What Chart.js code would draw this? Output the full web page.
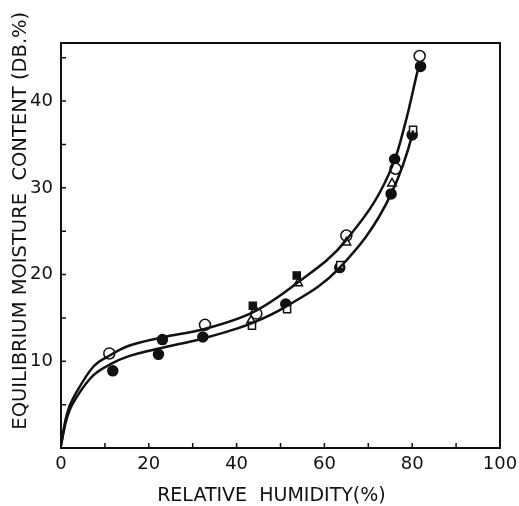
<!DOCTYPE html>
<html>
<head>
<meta charset="utf-8">
<script src="https://cdn.jsdelivr.net/npm/chart.js@4"></script>
<style>
  body { margin: 0; background: #fff; }
  #wrap { width: 519px; height: 506px; }
</style>
</head>
<body>
<div id="wrap"><canvas id="iso"></canvas></div>
<script>
// fitted curves
const upperX = [0, 1, 2, 3.6, 7.4, 11.2, 15, 23.1, 32.5, 43.9, 53.7, 65, 76, 78.8, 81.1, 81.6];
const upperY = [0.3, 3.2, 4.9, 6.5, 9.4, 10.7, 11.7, 12.75, 13.7, 15.7, 19.0, 24.0, 33.2, 38.2, 43.2, 44.2];
const lowerX = [0, 1, 2, 3.6, 7.4, 11.6, 15, 22.6, 32.1, 43.5, 51.2, 63.5, 75.2, 80.0, 80.2];
const lowerY = [0.3, 2.8, 4.4, 5.9, 8.4, 9.75, 10.5, 11.5, 12.6, 14.4, 16.3, 20.8, 29.3, 36.1, 36.6];

// measured points
const openCircleX = [11.0, 32.8, 44.5, 65.0, 76.2, 81.7];
const openCircleY = [10.9, 14.2, 15.5, 24.5, 32.2, 45.2];
const filledCircleX = [11.8, 23.1, 22.2, 32.3, 51.2, 63.5, 76.0, 75.2, 80.0, 81.9];
const filledCircleY = [8.9, 12.5, 10.8, 12.8, 16.6, 20.8, 33.3, 29.3, 36.1, 44.0];
const openSquareX = [43.5, 51.5, 63.6, 80.2];
const openSquareY = [14.1, 16.0, 21.1, 36.7];
const filledSquareX = [43.7, 53.7];
const filledSquareY = [16.4, 19.9];
const triangleX = [43.3, 54.0, 65.0, 75.4];
const triangleY = [14.7, 19.0, 23.7, 30.5];

const xTicks = [0, 10, 20, 30, 40, 50, 60, 70, 80, 90, 100];
const yTicks = [0, 5, 10, 15, 20, 25, 30, 35, 40, 45];

function pts(xs, ys) {
  return xs.map((x, i) => ({ x: x, y: ys[i] }));
}

function curve(xs, ys) {
  return {
    data: pts(xs, ys),
    showLine: true,
    borderColor: "#111",
    borderWidth: 2.5,
    pointRadius: 0,
    cubicInterpolationMode: "monotone",
    fill: false,
  };
}

function marks(xs, ys, style, filled, r) {
  return {
    data: pts(xs, ys),
    showLine: false,
    pointStyle: style,
    pointRadius: r,
    pointBackgroundColor: filled ? "#111" : "#fff",
    pointBorderColor: "#111",
    pointBorderWidth: 1.5,
  };
}

// box round the plot and short ticks pointing inward
const frame = {
  id: "frame",
  afterDatasetsDraw(chart) {
    const ctx = chart.ctx;
    const a = chart.chartArea;
    const xs = chart.scales.x;
    const ys = chart.scales.y;
    ctx.save();
    ctx.strokeStyle = "#111";
    ctx.lineWidth = 2;
    ctx.strokeRect(a.left, a.top, a.right - a.left, a.bottom - a.top);
    ctx.lineWidth = 1.5;
    ctx.beginPath();
    xTicks.forEach(function (v) {
      const p = xs.getPixelForValue(v);
      ctx.moveTo(p, a.bottom);
      ctx.lineTo(p, a.bottom - 5);
    });
    yTicks.forEach(function (v) {
      const p = ys.getPixelForValue(v);
      ctx.moveTo(a.left, p);
      ctx.lineTo(a.left + 5, p);
    });
    ctx.stroke();
    ctx.restore();
  },
};

Chart.defaults.font.family = "DejaVu Sans";
Chart.defaults.color = "#111";

new Chart("iso", {
  type: "scatter",
  data: {
    datasets: [
      curve(upperX, upperY),
      curve(lowerX, lowerY),
      marks(openSquareX, openSquareY, "rect", false, 5),
      marks(filledSquareX, filledSquareY, "rect", true, 5),
      marks(triangleX, triangleY, "triangle", false, 5),
      marks(openCircleX, openCircleY, "circle", false, 5.5),
      marks(filledCircleX, filledCircleY, "circle", true, 5),
    ],
  },
  options: {
    responsive: true,
    maintainAspectRatio: false,
    animation: false,
    layout: { padding: { top: 43, right: 19, left: 0, bottom: 0 } },
    plugins: {
      legend: { display: false },
      tooltip: { enabled: false },
    },
    scales: {
      x: {
        type: "linear",
        min: 0,
        max: 100,
        grid: { display: false, drawTicks: false },
        border: { display: false },
        afterBuildTicks: function (s) {
          s.ticks = xTicks.filter((v) => v % 20 === 0).map((v) => ({ value: v }));
        },
        afterFit: function (s) {
          s.height = 58;
          s.paddingLeft = 0;
          s.paddingRight = 0;
        },
        ticks: { font: { size: 18 }, padding: 6, maxRotation: 0 },
        title: {
          display: true,
          text: "RELATIVE  HUMIDITY(%)   ",
          font: { size: 19, lineHeight: 1 },
          padding: { top: 0, bottom: 0 },
        },
      },
      y: {
        type: "linear",
        min: 0,
        max: 46.7,
        grid: { display: false, drawTicks: false },
        border: { display: false },
        afterBuildTicks: function (s) {
          s.ticks = yTicks.filter((v) => v % 10 === 0 && v > 0).map((v) => ({ value: v }));
        },
        afterFit: function (s) {
          s.width = 61;
        },
        ticks: { font: { size: 18 }, padding: 8 },
        title: {
          display: true,
          text: "        EQUILIBRIUM MOISTURE  CONTENT (DB.%)",
          font: { size: 19.5, lineHeight: 1.2 },
          padding: { top: 9, bottom: 0 },
        },
      },
    },
  },
  plugins: [frame],
});
</script>
</body>
</html>
